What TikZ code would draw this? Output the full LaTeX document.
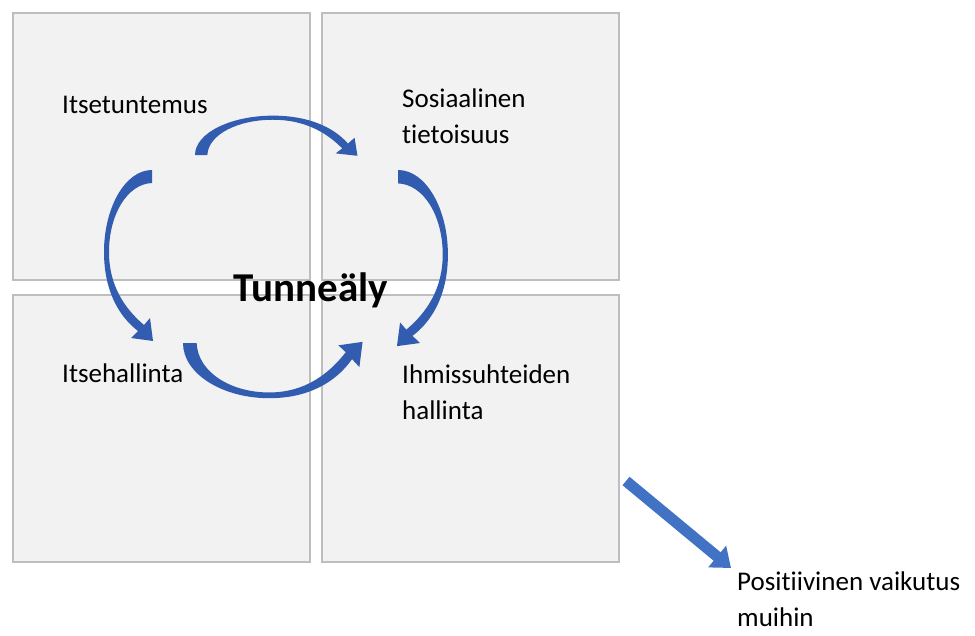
\documentclass[tikz,border=0pt]{standalone}
\usepackage{fontspec}
\setmainfont[Ligatures={NoCommon}]{Carlito}
\usetikzlibrary{positioning,arrows.meta}
\definecolor{cruutu}{RGB}{242,242,242}
\definecolor{creuna}{RGB}{190,190,190}
\definecolor{ckaari}{RGB}{50,92,176}
\definecolor{cnuoli}{RGB}{66,114,196}

\begin{document}
\begin{tikzpicture}[
  x=1pt,y=-1pt,
  font=\fontsize{27}{36}\selectfont,
  ruutu/.style={rectangle,draw=creuna,fill=cruutu,line width=1.2pt,
    minimum width=297pt,minimum height=267pt,inner sep=0,outer sep=0},
  teksti/.style={anchor=base west,align=left,inner sep=0},
  nuoli/.style={-{Triangle[length=18pt,width=27pt]},cnuoli,line width=11pt},
  kaari/.pic={
    \fill[ckaari] (0,0) .. controls (-27,0) and (-48,38) .. (-48,82)
      .. controls (-48,118) and (-35,145) .. (-14,161) -- (-21,168) -- (1,171)
      -- (-2,148) -- (-8,155) .. controls (-28,138) and (-43,115) .. (-43,82)
      .. controls (-43,45) and (-25,14) .. (0,13) -- cycle;
  },
]
\useasboundingbox (0,0) rectangle (975,635);
% the four quarters
\node[ruutu] (tl) at (161.5,146.5) {};
\node[ruutu,right=12pt of tl] (tr) {};
\node[ruutu,below=15pt of tl] (bl) {};
\node[ruutu,below=15pt of tr] (br) {};
% labels (base = last line)
\node[teksti] (itse) at (62,113) {Itsetuntemus};
\node[teksti] (sos) at (402,143) {Sosiaalinen\\tietoisuus};
\node[teksti] (hall) at (62,382) {Itsehallinta};
\node[teksti] (ihm) at (402,419) {Ihmissuhteiden\\hallinta};
\node[teksti] (vaik) at (737,626) {Positiivinen vaikutus\\muihin};
\node[font=\fontsize{41}{48}\selectfont\bfseries,anchor=base,inner sep=0] (tunne) at (310.5,301) {Tunneäly};
% curved arrows round the centre
\begin{scope}[shift={(195,155)},cm={0,-1,-1,0,(0,0)},xscale=0.82,yscale=0.95,transform shape]
  \pic {kaari};
\end{scope}
\begin{scope}[shift={(398,170)},xscale=-1.04,yscale=1.03,transform shape]
  \pic {kaari};
\end{scope}
\begin{scope}[shift={(183,343)},rotate=90,xscale=1.15,yscale=1.05,transform shape]
  \pic {kaari};
\end{scope}
\begin{scope}[shift={(152,170)}]
  \pic {kaari};
\end{scope}
% out to the others
\coordinate (alku) at (626,481);
\coordinate (karki) at (731,568);
\draw[nuoli] (alku) -- (karki);
\end{tikzpicture}
\end{document}
